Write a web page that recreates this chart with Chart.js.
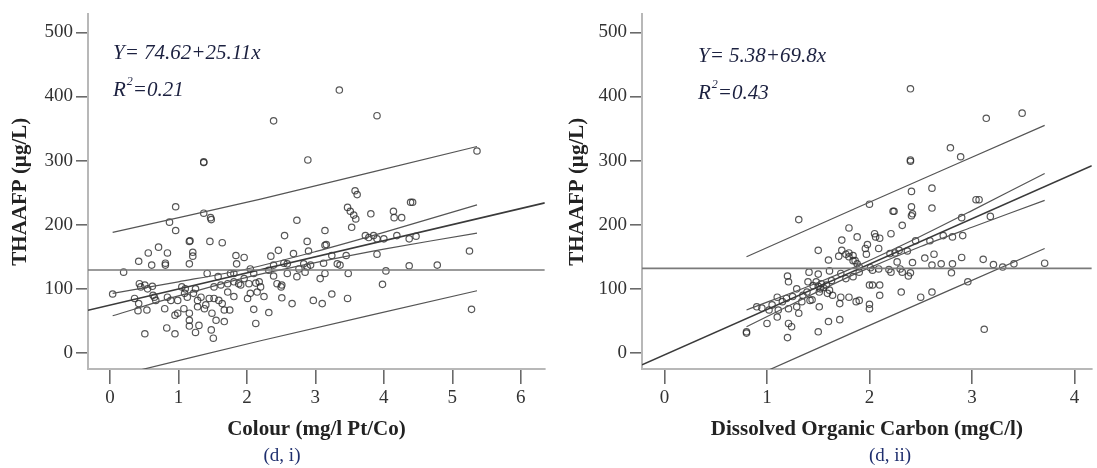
<!DOCTYPE html>
<html>
<head>
<meta charset="utf-8">
<script src="https://cdn.jsdelivr.net/npm/chart.js@4.4.1/dist/chart.umd.min.js"></script>
<style>
  body { margin: 0; background: #fff; }
  .panel { position: absolute; top: 0; }
</style>
</head>
<body>
<div class="panel" style="left:0"><canvas id="colourChart" width="550" height="468"></canvas></div>
<div class="panel" style="left:550px"><canvas id="docChart" width="547" height="468"></canvas></div>
<script>
// (d, i) THAAFP vs colour
const colourX = [3.35, 2.39, 3.90, 1.37, 1.37, 2.89, 5.36, 0.96, 0.87, 1.37, 1.47, 1.48, 0.96, 2.73, 3.14, 3.58, 3.61, 3.47, 3.51, 3.56,
  3.59, 3.53, 3.81, 4.14, 4.15, 4.26, 4.39, 4.42, 2.55, 2.88, 3.14, 3.73, 3.78, 3.85, 3.90, 4.00, 4.19, 4.37, 4.47, 3.90,
  5.25, 4.37, 4.78, 4.03, 3.98, 5.28, 1.16, 1.17, 0.71, 0.56, 0.84, 0.42, 0.61, 0.81, 0.81, 1.21, 1.21, 1.16, 1.46, 1.64,
  0.20, 1.84, 1.96, 1.85, 2.46, 2.35, 2.68, 2.90, 3.16, 3.24, 3.45, 2.54, 2.59, 2.83, 3.12, 3.32, 3.36, 3.48, 3.14, 3.07,
  1.42, 1.58, 1.76, 1.81, 1.88, 2.05, 2.10, 2.13, 2.18, 2.20, 2.15, 2.03, 2.05, 2.32, 2.39, 2.44, 2.51, 2.59, 2.73, 2.76,
  2.85, 2.88, 2.93, 2.39, 0.04, 0.43, 0.51, 0.63, 0.65, 0.36, 0.42, 0.41, 0.54, 0.80, 0.89, 0.95, 0.99, 1.09, 1.13, 1.22,
  1.28, 1.33, 1.08, 1.16, 1.16, 1.16, 1.30, 1.25, 1.38, 1.40, 1.45, 1.52, 1.49, 1.55, 1.67, 1.48, 1.51, 1.59, 1.64, 1.67,
  1.75, 1.81, 2.01, 2.10, 2.13, 2.25, 2.32, 2.51, 2.66, 2.97, 3.10, 3.24, 3.47, 2.50, 0.51, 0.83, 0.95, 0.84, 0.67, 1.72,
  1.62, 1.52, 1.72, 1.91, 1.28, 0.99, 1.81, 1.96, 1.05, 1.10, 1.25, 0.55, 0.62, 0.45];
const colourY = [410, 362, 370, 298, 297, 301, 315, 228, 204, 218, 211, 208, 191, 207, 191, 253, 247, 227, 221, 215,
  209, 196, 217, 221, 211, 211, 235, 235, 183, 174, 168, 183, 180, 183, 178, 178, 183, 178, 182, 154,
  159, 136, 137, 128, 107, 68, 174, 175, 165, 156, 156, 143, 137, 137, 140, 157, 151, 139, 174, 172,
  126, 152, 149, 139, 160, 151, 155, 159, 169, 152, 152, 140, 139, 139, 140, 139, 137, 124, 124, 116,
  124, 119, 124, 111, 108, 131, 124, 109, 111, 103, 95, 108, 93, 129, 120, 108, 106, 124, 119, 131,
  126, 134, 137, 137, 92, 108, 106, 90, 87, 85, 77, 66, 67, 69, 82, 59, 62, 93, 87, 93,
  82, 87, 69, 62, 51, 42, 43, 32, 69, 75, 85, 85, 62, 51, 49, 36, 23, 82, 77, 67,
  67, 88, 85, 68, 46, 88, 63, 86, 77, 82, 77, 92, 85, 103, 30, 39, 30, 87, 82, 108,
  106, 103, 95, 106, 72, 82, 124, 116, 103, 100, 100, 100, 104, 103];

const colourFitX = [-0.32, 6.35];
const colourFitY = [66.6, 234.1];
const colourMean = 129.5;
const colourCiX = [0.04, 1, 2, 3, 4, 5.36];
const colourCiUpper = [93, 111, 131, 158, 188, 231];
const colourCiLower = [58, 89, 118, 141, 162, 187];
const colourPiX = [0.04, 2.2, 5.36];
const colourPiUpper = [188, 240, 322];
const colourPiLower = [-37, 19, 97];

// (d, ii) THAAFP vs DOC
const docX = [2.40, 3.14, 3.49, 2.79, 2.89, 2.40, 2.40, 2.00, 1.31, 2.41, 2.61, 2.61, 2.23, 2.24, 2.41, 2.42, 2.41, 3.04, 3.07, 2.90,
  3.18, 1.80, 1.88, 1.73, 2.05, 2.06, 2.10, 2.21, 2.32, 1.98, 1.96, 2.09, 1.97, 1.50, 1.60, 1.70, 1.73, 1.77, 1.80, 1.84,
  1.86, 1.88, 1.90, 2.20, 2.25, 2.29, 2.37, 2.27, 2.45, 2.59, 2.72, 2.81, 2.91, 2.54, 2.63, 2.90, 3.11, 2.42, 2.61, 2.70,
  2.81, 3.21, 3.41, 3.71, 2.80, 2.01, 2.03, 2.09, 2.19, 2.32, 2.40, 2.38, 1.61, 1.63, 1.72, 1.84, 1.90, 1.77, 1.41, 1.50,
  1.40, 1.48, 1.53, 1.58, 1.20, 1.21, 1.29, 1.39, 1.42, 1.51, 1.59, 1.61, 1.10, 1.19, 1.11, 1.10, 1.21, 1.29, 1.31, 1.34,
  0.90, 1.02, 1.00, 1.21, 1.24, 1.20, 0.80, 0.80, 1.50, 1.60, 1.71, 1.44, 1.51, 1.64, 1.71, 1.72, 1.80, 1.87, 1.90, 2.00,
  2.00, 2.00, 2.03, 2.10, 2.10, 2.31, 2.50, 2.61, 2.96, 3.12, 3.30, 2.21, 2.30, 1.84, 1.80, 1.45, 1.50, 1.55, 1.52, 1.35,
  1.25, 1.15, 1.05, 0.95];
const docY = [412, 366, 374, 320, 306, 301, 299, 232, 208, 252, 257, 226, 221, 221, 228, 217, 214, 239, 239, 211,
  213, 195, 181, 176, 186, 181, 179, 186, 199, 169, 163, 163, 154, 160, 145, 151, 160, 154, 156, 152,
  144, 139, 134, 155, 156, 160, 159, 142, 175, 175, 183, 181, 183, 148, 154, 149, 146, 141, 137, 139,
  139, 138, 139, 140, 125, 133, 129, 131, 130, 126, 125, 120, 128, 113, 124, 119, 126, 116, 126, 123,
  111, 111, 108, 106, 120, 111, 100, 95, 82, 95, 93, 98, 87, 85, 67, 56, 69, 72, 62, 80,
  72, 67, 46, 46, 41, 24, 33, 31, 33, 49, 52, 83, 72, 90, 77, 87, 87, 80, 82, 76,
  69, 106, 106, 106, 90, 95, 87, 95, 111, 37, 134, 126, 131, 144, 150, 105, 104, 102, 100, 90,
  88, 80, 75, 70];

const docFitX = [-0.22, 4.17];
const docFitY = [-18.5, 292];
const docMean = 132;
const docCiX = [0.8, 1.5, 1.9, 2.5, 3.0, 3.71];
const docCiUpper = [67, 110, 137, 182, 222, 280];
const docCiLower = [41, 96, 126, 166, 196, 238];
const docPiX = [0.8, 1.9, 3.71];
const docPiUpper = [150, 228, 355];
const docPiLower = [-42, 36, 163];

const serif = "'Liberation Serif', 'Times New Roman', serif";

function toPoints(xs, ys) {
    return xs.map((x, i) => ({ x: x, y: ys[i] }));
}

function lineSet(points, color, width, tension) {
    return {
        data: points,
        showLine: true,
        borderColor: color,
        borderWidth: width,
        pointRadius: 0,
        tension: tension || 0,
        fill: false
    };
}

// equations and the (d, ...) captions
const notesPlugin = {
    id: 'notes',
    afterDraw(chart, args, opts) {
        const ctx = chart.ctx;
        ctx.save();
        ctx.fillStyle = '#1c2140';
        ctx.textBaseline = 'middle';
        ctx.textAlign = 'left';
        ctx.font = 'italic 21px ' + serif;
        ctx.fillText(opts.equation, opts.eqX, opts.eqY);
        ctx.fillText('R', opts.eqX, opts.eqY + 37);
        const w = ctx.measureText('R').width;
        ctx.font = 'italic 12px ' + serif;
        ctx.fillText('2', opts.eqX + w + 1, opts.eqY + 29);
        ctx.font = 'italic 21px ' + serif;
        ctx.fillText(opts.rSquared, opts.eqX + w + 7, opts.eqY + 37);

        ctx.fillStyle = '#1f2f6e';
        ctx.textAlign = 'center';
        ctx.font = '19px ' + serif;
        ctx.fillText(opts.caption, opts.capX, 456);
        ctx.restore();
    }
};

function makeChart(id, cfg) {
    const ctx = document.getElementById(id).getContext('2d');
    return new Chart(ctx, {
        type: 'scatter',
        data: {
            datasets: [
                lineSet(toPoints([cfg.xMin, cfg.xMax], [cfg.mean, cfg.mean]), '#7a7a7a', 1.6),
                lineSet(toPoints(cfg.fitX, cfg.fitY), '#3a3a3a', 1.6),
                lineSet(toPoints(cfg.ciX, cfg.ciUpper), '#555', 1.2, 0.3),
                lineSet(toPoints(cfg.ciX, cfg.ciLower), '#555', 1.2, 0.3),
                lineSet(toPoints(cfg.piX, cfg.piUpper), '#555', 1.2, 0.2),
                lineSet(toPoints(cfg.piX, cfg.piLower), '#555', 1.2, 0.2),
                {
                    data: toPoints(cfg.xs, cfg.ys),
                    pointRadius: 3.2,
                    pointBorderWidth: 1.2,
                    pointBorderColor: 'rgba(45, 45, 45, 0.8)',
                    pointBackgroundColor: 'rgba(0, 0, 0, 0)'
                }
            ]
        },
        options: {
            responsive: false,
            animation: false,
            layout: { padding: { top: 13, right: cfg.padRight, left: 0, bottom: 0 } },
            plugins: {
                legend: { display: false },
                tooltip: { enabled: false },
                notes: cfg.notes
            },
            scales: {
                x: {
                    type: 'linear',
                    min: cfg.xMin,
                    max: cfg.xMax,
                    border: { color: '#b8b8b8', width: 2 },
                    grid: { drawOnChartArea: false, tickLength: 15, color: '#6a6a6a', lineWidth: 1.6 },
                    ticks: {
                        stepSize: 1,
                        includeBounds: false,
                        color: '#333',
                        padding: 3,
                        font: { family: serif, size: 19 }
                    },
                    title: {
                        display: true,
                        text: cfg.xTitle,
                        color: '#222',
                        font: { family: serif, size: 21, weight: 'bold' },
                        padding: { top: 0, bottom: 26 }
                    },
                    afterFit: (scale) => { scale.height = 99; }
                },
                y: {
                    type: 'linear',
                    min: -25,
                    max: 528,
                    border: { color: '#b8b8b8', width: 2 },
                    grid: { drawOnChartArea: false, tickLength: 12, color: '#6a6a6a', lineWidth: 1.6 },
                    ticks: {
                        stepSize: 100,
                        includeBounds: false,
                        color: '#333',
                        padding: 3,
                        font: { family: serif, size: 19 }
                    },
                    title: {
                        display: true,
                        text: 'THAAFP (µg/L)',
                        color: '#222',
                        font: { family: serif, size: 21, weight: 'bold' },
                        padding: { top: cfg.yTitlePad, bottom: 0 }
                    },
                    afterFit: (scale) => { scale.width = cfg.yWidth; }
                }
            }
        },
        plugins: [notesPlugin]
    });
}

makeChart('colourChart', {
    xs: colourX, ys: colourY,
    xMin: -0.32, xMax: 6.35,
    mean: colourMean,
    fitX: colourFitX, fitY: colourFitY,
    ciX: colourCiX, ciUpper: colourCiUpper, ciLower: colourCiLower,
    piX: colourPiX, piUpper: colourPiUpper, piLower: colourPiLower,
    xTitle: 'Colour (mg/l Pt/Co)',
    yWidth: 88, yTitlePad: 8, padRight: 3,
    notes: { equation: 'Y= 74.62+25.11x', rSquared: '=0.21', eqX: 113, eqY: 53, caption: '(d, i)', capX: 282 }
});

makeChart('docChart', {
    xs: docX, ys: docY,
    xMin: -0.22, xMax: 4.17,
    mean: docMean,
    fitX: docFitX, fitY: docFitY,
    ciX: docCiX, ciUpper: docCiUpper, ciLower: docCiLower,
    piX: docPiX, piUpper: docPiUpper, piLower: docPiLower,
    xTitle: 'Dissolved Organic Carbon (mgC/l)',
    yWidth: 92, yTitlePad: 15, padRight: 0,
    notes: { equation: 'Y= 5.38+69.8x', rSquared: '=0.43', eqX: 148, eqY: 56, caption: '(d, ii)', capX: 340 }
});
</script>
</body>
</html>
